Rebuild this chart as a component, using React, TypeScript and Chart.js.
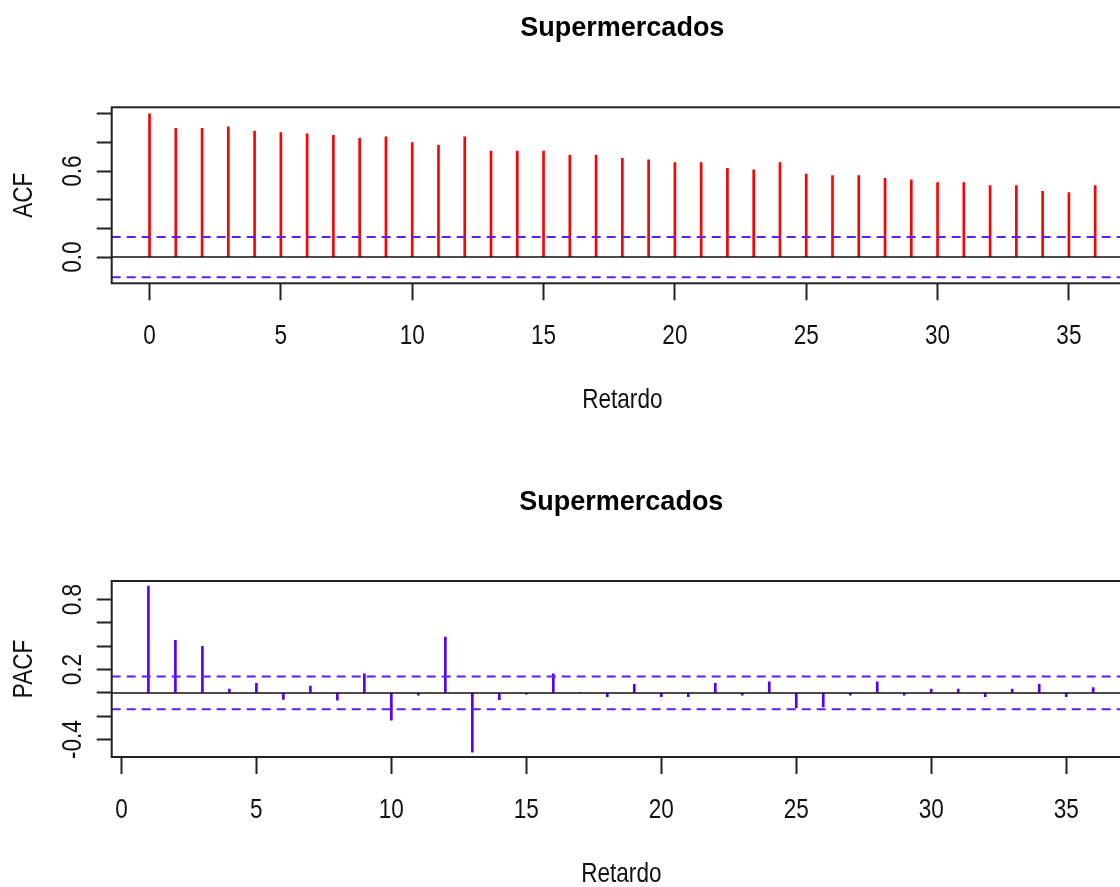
import React, { useEffect, useRef } from 'react';
import { Chart, registerables } from 'chart.js';

Chart.register(...registerables);

const TITLE = 'Supermercados';
const X_LABEL = 'Retardo';
const ACF_LABEL = 'ACF';
const PACF_LABEL = 'PACF';

const ACF_LAGS = [0, 1, 2, 3, 4, 5, 6, 7, 8, 9, 10, 11, 12, 13, 14, 15, 16, 17, 18, 19, 20, 21, 22, 23, 24, 25, 26, 27, 28, 29, 30, 31, 32, 33, 34, 35, 36];
const ACF_VALUES = [1.0, 0.9, 0.9, 0.91, 0.88, 0.87, 0.86, 0.85, 0.83, 0.84, 0.8, 0.78, 0.84, 0.74, 0.74, 0.74, 0.71, 0.71, 0.69, 0.68, 0.66, 0.66, 0.62, 0.61, 0.66, 0.58, 0.57, 0.57, 0.55, 0.54, 0.52, 0.52, 0.5, 0.5, 0.46, 0.45, 0.5];

const PACF_LAGS = [1, 2, 3, 4, 5, 6, 7, 8, 9, 10, 11, 12, 13, 14, 15, 16, 17, 18, 19, 20, 21, 22, 23, 24, 25, 26, 27, 28, 29, 30, 31, 32, 33, 34, 35, 36];
const PACF_VALUES = [0.917, 0.451, 0.4, 0.033, 0.082, -0.056, 0.058, -0.062, 0.164, -0.234, -0.02, 0.479, -0.509, -0.059, -0.01, 0.164, 0.005, -0.033, 0.073, -0.033, -0.033, 0.082, -0.02, 0.095, -0.128, -0.12, -0.02, 0.095, -0.02, 0.033, 0.033, -0.033, 0.033, 0.073, -0.033, 0.045];

const CONF_LIMIT = 0.14;
const ACF_Y_TICK_LABELS = [0.0, 0.6];
const PACF_Y_TICK_LABELS = [-0.4, 0.2, 0.8];

const SANS = '"Liberation Sans", Arial, Helvetica, sans-serif';
const AXIS_FONT_SIZE = 27.5;
const CONDENSE = 0.82;
const ACF_COLOR = '#ff0000';
const PACF_COLOR = '#5500ff';
const DASH_COLOR = '#5a1eff';
const INK = '#111111';

function condensedText(ctx: any, text: string, x: number, y: number, rotation: number) {
  ctx.save();
  ctx.translate(x, y);
  ctx.rotate(rotation);
  ctx.scale(CONDENSE, 1);
  ctx.fillText(text, 0, 0);
  ctx.restore();
}

function decorPlugin(yLabels: number[], yTitle: string, limit: number) {
  return {
    id: 'decor',
    afterDraw(chart: any) {
      const { ctx, chartArea: a, scales } = chart;
      const y = scales.y;
      const x = scales.x;
      ctx.save();
      // zero line
      ctx.strokeStyle = INK;
      ctx.lineWidth = 1.5;
      const y0 = y.getPixelForValue(0);
      ctx.beginPath();
      ctx.moveTo(a.left, y0);
      ctx.lineTo(a.right, y0);
      ctx.stroke();
      // confidence limits
      ctx.strokeStyle = DASH_COLOR;
      ctx.lineWidth = 2;
      ctx.setLineDash([9, 6]);
      [limit, -limit].forEach((v) => {
        const py = y.getPixelForValue(v);
        ctx.beginPath();
        ctx.moveTo(a.left, py);
        ctx.lineTo(a.right, py);
        ctx.stroke();
      });
      ctx.setLineDash([]);
      // box
      ctx.strokeStyle = '#222222';
      ctx.lineWidth = 2;
      ctx.strokeRect(a.left, a.top, a.right - a.left, a.bottom - a.top);
      // texts (condensed Helvetica look)
      ctx.fillStyle = INK;
      ctx.font = `${AXIS_FONT_SIZE}px ${SANS}`;
      ctx.textAlign = 'center';
      ctx.textBaseline = 'middle';
      // x tick labels from the scale's ticks
      x.ticks.forEach((t: any) => {
        condensedText(ctx, String(t.value), x.getPixelForValue(t.value), a.bottom + 53, 0);
      });
      // x title
      condensedText(ctx, X_LABEL, (a.left + a.right) / 2, a.bottom + 117, 0);
      // y tick labels
      yLabels.forEach((v) => {
        condensedText(ctx, v.toFixed(1), 73.5, y.getPixelForValue(v), -Math.PI / 2);
      });
      // y title
      condensedText(ctx, yTitle, 24, (a.top + a.bottom) / 2, -Math.PI / 2);
      ctx.restore();
    },
  };
}

interface PanelSpec {
  lags: number[];
  values: number[];
  color: string;
  xMin: number;
  xMax: number;
  yMin: number;
  yMax: number;
  yLabel: string;
  yTickLabels: number[];
  titlePadTop: number;
  titlePadBottom: number;
  xAxisHeight: number;
}

function buildConfig(s: PanelSpec): any {
  return {
    type: 'bar',
    data: {
      datasets: [
        {
          data: s.lags.map((l, i) => ({ x: l, y: s.values[i] })),
          backgroundColor: s.color,
          borderWidth: 0,
          barThickness: 2,
        },
      ],
    },
    options: {
      animation: false,
      responsive: false,
      events: [],
      layout: { padding: 0 },
      plugins: {
        legend: { display: false },
        tooltip: { enabled: false },
        title: {
          display: true,
          text: TITLE,
          fullSize: false,
          color: '#000000',
          font: { family: SANS, size: 27, weight: 'bold', lineHeight: 1.2 },
          padding: { top: s.titlePadTop, bottom: s.titlePadBottom },
        },
      },
      scales: {
        x: {
          type: 'linear',
          min: s.xMin,
          max: s.xMax,
          offset: false,
          border: { display: false },
          grid: {
            offset: false,
            drawOnChartArea: false,
            drawTicks: true,
            tickLength: 17,
            tickWidth: 2,
            tickColor: '#222222',
          },
          ticks: {
            display: false,
            stepSize: 5,
            includeBounds: false,
            autoSkip: false,
          },
          title: { display: false },
          afterFit: (scale: any) => {
            scale.height = s.xAxisHeight;
          },
        },
        y: {
          type: 'linear',
          min: s.yMin,
          max: s.yMax,
          border: { display: false },
          grid: {
            drawOnChartArea: false,
            drawTicks: true,
            tickLength: 15,
            tickWidth: 2,
            tickColor: '#222222',
          },
          ticks: {
            display: false,
            stepSize: 0.2,
            includeBounds: false,
          },
          title: { display: false },
          afterFit: (scale: any) => {
            scale.width = 111.7;
          },
        },
      },
    },
    plugins: [decorPlugin(s.yTickLabels, s.yLabel, CONF_LIMIT)],
  };
}

function Panel({ top, width, height, spec }: { top: number; width: number; height: number; spec: PanelSpec }) {
  const ref = useRef<HTMLCanvasElement | null>(null);
  useEffect(() => {
    if (!ref.current) return;
    const chart = new Chart(ref.current, buildConfig(spec));
    return () => chart.destroy();
  }, []);
  return (
    <canvas
      ref={ref}
      width={width}
      height={height}
      style={{ position: 'absolute', left: 0, top, width, height, display: 'block' }}
    />
  );
}

const ACF_SPEC: PanelSpec = {
  lags: ACF_LAGS,
  values: ACF_VALUES,
  color: ACF_COLOR,
  xMin: -1.44,
  xMax: 37.44,
  yMin: -0.183,
  yMax: 1.046,
  yLabel: ACF_LABEL,
  yTickLabels: ACF_Y_TICK_LABELS,
  titlePadTop: 12.2,
  titlePadBottom: 62.7,
  xAxisHeight: 156.7,
};

const PACF_SPEC: PanelSpec = {
  lags: PACF_LAGS,
  values: PACF_VALUES,
  color: PACF_COLOR,
  xMin: -0.36,
  xMax: 37.4,
  yMin: -0.55,
  yMax: 0.96,
  yLabel: PACF_LABEL,
  yTickLabels: PACF_Y_TICK_LABELS,
  titlePadTop: 45.9,
  titlePadBottom: 62.7,
  xAxisHeight: 143,
};

export default function App() {
  return (
    <div
      style={{
        position: 'fixed',
        left: 0,
        top: 0,
        width: 1120,
        height: 887,
        overflow: 'hidden',
        background: '#ffffff',
      }}
    >
      <Panel top={0} width={1133} height={440} spec={ACF_SPEC} />
      <Panel top={440} width={1131} height={460} spec={PACF_SPEC} />
    </div>
  );
}
